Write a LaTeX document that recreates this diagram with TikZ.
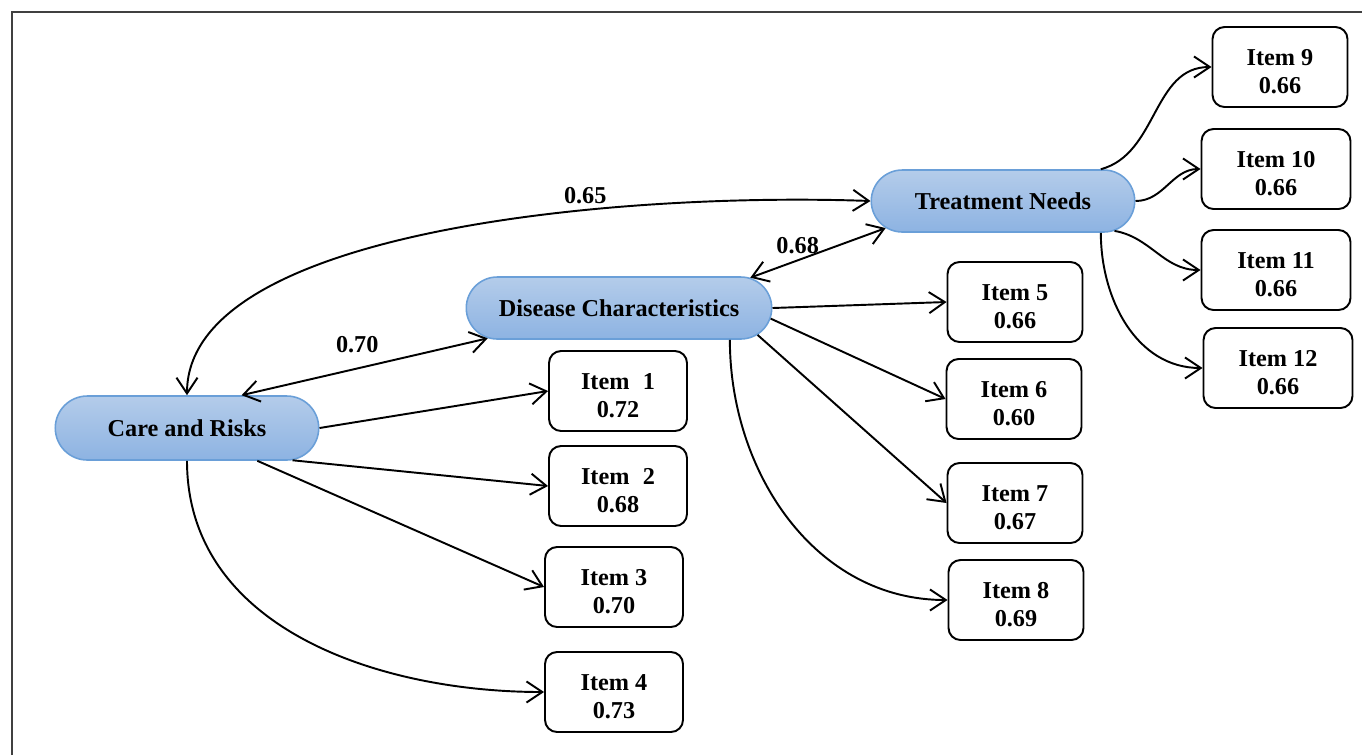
\documentclass[tikz,border=0pt]{standalone}
\usepackage{fontspec}
\setmainfont{Liberation Serif}
\usetikzlibrary{shapes.misc,arrows.meta}
\definecolor{pilltop}{HTML}{B4CCEA}
\definecolor{pillbot}{HTML}{8DB3E2}
\definecolor{pilledge}{HTML}{6A9FD8}
\newcommand{\itemtext}[2]{\rule{0pt}{14pt}#1\\#2}

\begin{document}
\begin{tikzpicture}[x=0.02cm,y=0.02cm,
	>={Straight Barb[length=9pt,width=12pt]},
	factor/.style={rounded rectangle,draw=pilledge,line width=0.9pt,top color=pilltop,bottom color=pillbot,minimum height=1.24cm,inner sep=1pt,font=\fontsize{13.8}{16}\selectfont\bfseries},
	item/.style={draw,rectangle,rounded corners=0.24cm,line width=1.1pt,minimum height=1.6cm,inner sep=1pt,align=center,font=\fontsize{13.8}{15.9}\selectfont\bfseries},
	link/.style={->,line width=1.1pt},
	both/.style={<->,line width=1.1pt},
	lbl/.style={font=\fontsize{13.8}{16}\selectfont\bfseries}]
	\useasboundingbox (0,0) rectangle (1362,-755);
	\draw[black!75,line width=0.035cm] (12,-755) -- (12,-12) -- (1362,-12);

	\node[factor,minimum width=5.34cm,minimum height=1.28cm] (care) at (187,-428) {Care and Risks};
	\node[factor,minimum width=6.18cm] (dis) at (619,-308) {Disease Characteristics};
	\node[factor,minimum width=5.34cm] (treat) at (1003,-201) {Treatment Needs};

	\node[item,minimum width=2.76cm] (i1) at (618,-391) {\itemtext{Item\hspace{0.3em} 1}{0.72}};
	\node[item,minimum width=2.76cm] (i2) at (618,-486) {\itemtext{Item\hspace{0.3em} 2}{0.68}};
	\node[item,minimum width=2.76cm] (i3) at (614,-587) {\itemtext{Item 3}{0.70}};
	\node[item,minimum width=2.76cm] (i4) at (614,-692) {\itemtext{Item 4}{0.73}};
	\node[item,minimum width=2.7cm] (i5) at (1015,-302) {\itemtext{Item 5}{0.66}};
	\node[item,minimum width=2.7cm] (i6) at (1014,-399) {\itemtext{Item 6}{0.60}};
	\node[item,minimum width=2.7cm] (i7) at (1015,-503) {\itemtext{Item 7}{0.67}};
	\node[item,minimum width=2.7cm] (i8) at (1016,-600) {\itemtext{Item 8}{0.69}};
	\node[item,minimum width=2.7cm] (i9) at (1280,-67) {\itemtext{Item 9}{0.66}};
	\node[item,minimum width=2.98cm] (i10) at (1276,-169) {\itemtext{Item 10}{0.66}};
	\node[item,minimum width=2.98cm] (i11) at (1276,-270) {\itemtext{Item 11}{0.66}};
	\node[item,minimum width=2.98cm] (i12) at (1278,-368) {\itemtext{Item 12}{0.66}};

	\draw[both] (care.north) .. controls +(0,166) and +(-250,9) .. node[pos=0.67,above,lbl] {0.65} (treat.west);
	\draw[both] (care.31) -- node[pos=0.47,above=5pt,lbl] {0.70} (dis.193);
	\draw[both] (dis.13) -- node[pos=0.35,above,lbl] {0.68} (treat.193);

	\draw[link] (care.east) -- (i1.west);
	\draw[link] (care.-17) -- (i2.west);
	\draw[link] (care.-25) -- (i3.west);
	\draw[link] (care.south) to[out=-90,in=180] (i4.west);

	\draw[link] (dis.east) -- (i5.west);
	\draw[link] (dis.-4) -- (i6.west);
	\draw[link] (dis.-11) -- (i7.west);
	\draw[link] (dis.-16) to[out=-90,in=180] (i8.west);

	\draw[link] (treat.18) to[out=15,in=180] (i9.west);
	\draw[link] (treat.east) to[out=0,in=180] (i10.west);
	\draw[link] (treat.-15) to[out=-10,in=180] (i11.west);
	\draw[link] (treat.-18) to[out=-90,in=180] (i12.west);
\end{tikzpicture}
\end{document}
